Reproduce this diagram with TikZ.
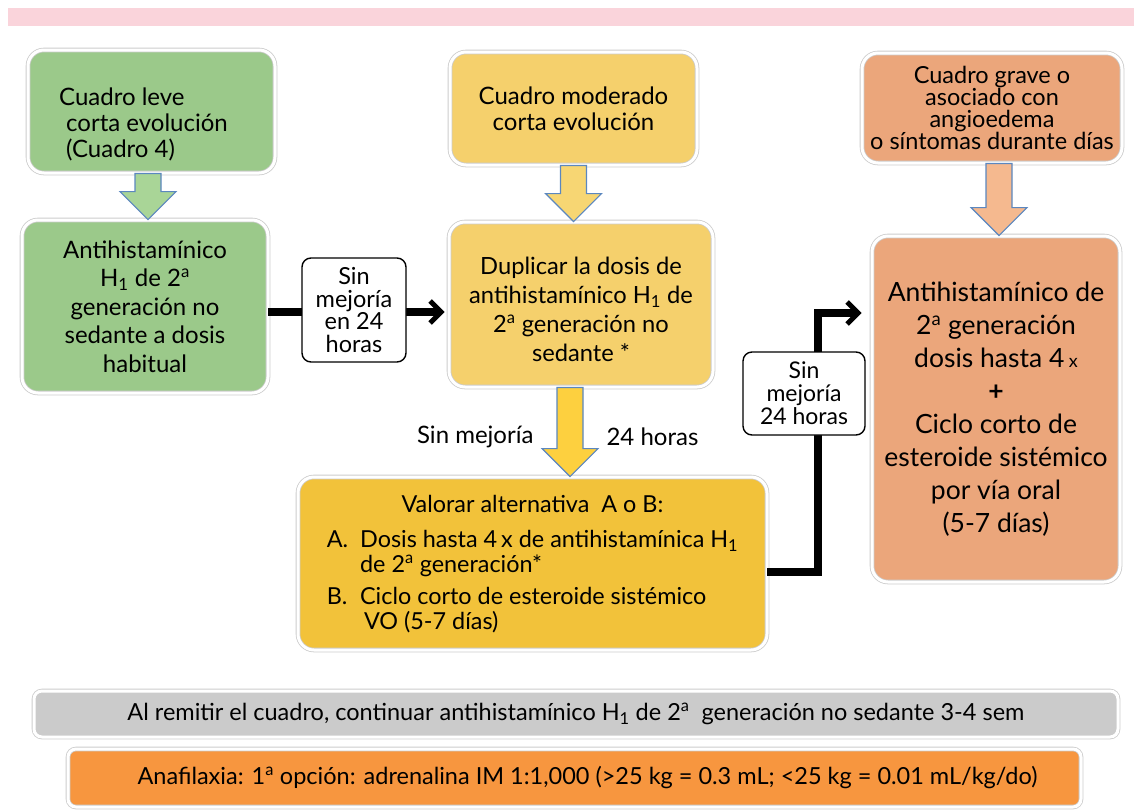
\documentclass[tikz,border=0pt]{standalone}
\usepackage{fontspec}
\setmainfont{Lato}
\usetikzlibrary{arrows.meta,calc}

\definecolor{pinkbar}{HTML}{FAD4DB}
\definecolor{leafgreen}{HTML}{9BC98A}
\definecolor{leafarrow}{HTML}{A9D597}
\definecolor{paleyellow}{HTML}{F5D06C}
\definecolor{yellowarrow}{HTML}{F7D673}
\definecolor{goldarrow}{HTML}{FDD03F}
\definecolor{gold}{HTML}{F2C23A}
\definecolor{salmon}{HTML}{EBA67B}
\definecolor{salmonarrow}{HTML}{F5B98F}
\definecolor{arrowblue}{HTML}{5B87BF}
\definecolor{barorange}{HTML}{F7963F}
\definecolor{bargray}{HTML}{CBCBCB}

% block arrow: from node, to node, x shift, fill colour
\newcommand{\fatarrow}[4]{%
  \path[fatarrow, fill=#4] let \p1=(#1.south), \p2=(#2.north) in
    (\x1+#3-13pt,\y1) -- (\x1+#3+13pt,\y1) -- (\x1+#3+13pt,\y2+28pt)
    -- (\x1+#3+28pt,\y2+28pt) -- (\x1+#3,\y2) -- (\x1+#3-28pt,\y2+28pt)
    -- (\x1+#3-13pt,\y2+28pt) -- cycle;}

\begin{document}
\begin{tikzpicture}[x=1pt,y=-1pt,
    box/.style={rounded corners=16pt, draw=gray!40, double=white, double distance=3pt,
                line width=0.8pt, align=center, inner sep=0pt},
    tag/.style={rounded corners=9pt, draw=black, line width=1.4pt, fill=white,
                align=center, inner sep=0pt},
    fatarrow/.style={draw=arrowblue, line width=1.2pt, line join=miter},
    flow/.style={line width=7.5pt, -{Straight Barb[length=11pt,width=22pt,line width=5pt]}}]
    \useasboundingbox (0,0) rectangle (1134,811);

    % top band
    \fill[pinkbar] (8,8) rectangle (1134,26);

    % mild case
    \node[box, fill=leafgreen, minimum width=247pt, minimum height=123pt, align=left,
          font=\fontsize{24}{26}\selectfont] (leve) at (151.5,111.5)
        {\rule{0pt}{44pt}Cuadro leve\\ \hspace*{7pt}corta evolución\hspace*{16pt}\mbox{}\\ \hspace*{7pt}(Cuadro 4)};
    \node[box, fill=leafgreen, minimum width=246pt, minimum height=173pt,
          font=\fontsize{24}{28.5}\selectfont] (antiH) at (145,306.5)
        {Antihistamínico\\ H\textsubscript{1} de 2\textsuperscript{a}\\ generación no\\ sedante a dosis\\ habitual};

    % moderate case
    \node[box, fill=paleyellow, minimum width=247pt, minimum height=113pt,
          font=\fontsize{24}{26}\selectfont] (mod) at (573.5,108.5)
        {Cuadro moderado\\ corta evolución};
    \node[box, fill=paleyellow, minimum width=264pt, minimum height=165pt,
          font=\fontsize{23.7}{29}\selectfont] (dup) at (581,304.5)
        {\rule{0pt}{28pt}Duplicar la dosis de\\ antihistamínico H\textsubscript{1} de\\ 2\textsuperscript{a} generación no\\ sedante *};
    \node[box, fill=gold, minimum width=469pt, minimum height=173pt,
          font=\fontsize{23.4}{24.5}\selectfont] (val) at (532.5,563.5)
        {\rule{0pt}{22pt}Valorar alternativa\ \ A o B:\\[17pt]
         \begin{tabular}{@{}l@{\ \ }l@{}}
           A. & Dosis hasta 4\,x de antihistamínica H\textsubscript{1}\\
              & de 2\textsuperscript{a} generación*\\[7pt]
           B. & Ciclo corto de esteroide sistémico\\
              & \,VO (5-7 días)
         \end{tabular}};

    % severe case
    \node[box, fill=salmon, minimum width=260pt, minimum height=110pt,
          font=\fontsize{23.5}{22}\selectfont] (grave) at (992,108)
        {Cuadro grave o\\ asociado con\\ angioedema\\ o síntomas durante días};
    \node[box, fill=salmon, minimum width=248pt, minimum height=346pt,
          font=\fontsize{26.5}{33}\selectfont] (trat) at (996,409)
        {Antihistamínico de\\ 2\textsuperscript{a} generación\\ dosis hasta 4\,{\fontsize{18}{20}\selectfont x}\\
         \textbf{+}\\ Ciclo corto de\\ esteroide sistémico\\ por vía oral\\ (5-7 días)};

    % block arrows
    \fatarrow{leve}{antiH}{-3.5pt}{leafarrow}
    \fatarrow{mod}{dup}{0pt}{yellowarrow}
    \fatarrow{dup}{val}{-11pt}{goldarrow}
    \fatarrow{grave}{trat}{7pt}{salmonarrow}

    \node[anchor=east, font=\fontsize{24}{24}\selectfont] (sinm) at (537,437) {Sin mejoría};
    \node[anchor=west, font=\fontsize{24}{24}\selectfont] (h24) at (603,437) {24 horas};

    % no improvement connectors
    \coordinate (in1) at (354,312);
    \draw[flow] (in1 -| antiH.east) -- ($(in1 -| dup.west)+(-4,0)$);
    \node[tag, minimum width=104pt, minimum height=104pt,
          font=\fontsize{23.5}{22.5}\selectfont] (sin1) at (354,310)
        {Sin\\ mejoría\\ en 24\\ horas};

    \coordinate (bend) at (818,572);
    \draw[flow] (bend -| val.east) -- (bend) |- ($(trat.west)+(-10,-96)$);
    \node[tag, minimum width=122pt, minimum height=83pt,
          font=\fontsize{23}{23}\selectfont] (sin2) at (804,393.5)
        {Sin\\ mejoría\\ 24 horas};

    % bottom notes
    \node[box, fill=bargray, rounded corners=8pt, minimum width=1084pt, minimum height=46pt,
          font=\fontsize{23.5}{24}\selectfont] (remit) at (576,714)
        {Al remitir el cuadro, continuar antihistamínico H\textsubscript{1} de 2\textsuperscript{a}\ \ generación no sedante 3-4 sem};
    \node[box, fill=barorange, rounded corners=8pt, minimum width=1013pt, minimum height=58pt,
          font=\fontsize{23.5}{24}\selectfont] (anaf) at (574.5,778)
        {\hspace*{26pt}Anafilaxia: 1\textsuperscript{a} opción: adrenalina IM 1:1,000 (>25 kg = 0.3 mL; <25 kg = 0.01 mL/kg/do)};
\end{tikzpicture}
\end{document}
